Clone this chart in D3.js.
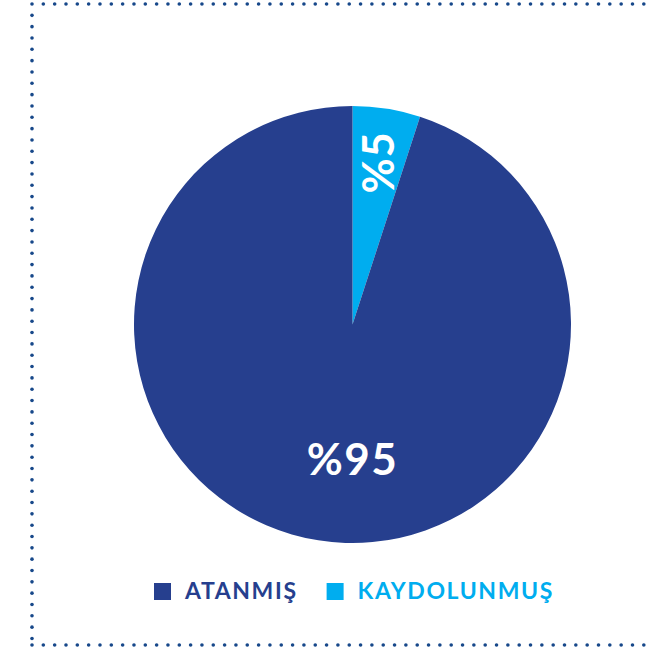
<!DOCTYPE html>
<html>
<head>
<meta charset="utf-8">
<script src="https://cdn.jsdelivr.net/npm/d3@7"></script>
<style>
  body { margin: 0; background: #fff; }
  svg { display: block; }
  text { font-family: Lato, "Open Sans", sans-serif; font-weight: 700; }
</style>
</head>
<body>
<svg id="chart" width="648" height="648"></svg>
<script>
// slices
const labels = ["ATANMIŞ", "KAYDOLUNMUŞ"];
const values = [95, 5];
const colors = ["#263f8e", "#00adef"];

const svg = d3.select("#chart");
const cx = 352.5, cy = 324.5, radius = 218.5;

// dotted frame (left, top, bottom; right side runs off the page)
const frame = svg.append("g").attr("fill", "#17488a");
const step = 11.33;
for (let x = 32; x <= 650; x += step) {
  frame.append("circle").attr("cx", x).attr("cy", 4).attr("r", 1.8);
  frame.append("circle").attr("cx", x).attr("cy", 645).attr("r", 1.8);
}
for (let y = 4 + step; y < 645; y += step) {
  frame.append("circle").attr("cx", 32).attr("cy", y).attr("r", 1.8);
}

// pie: small slice starts at 12 o'clock going clockwise
const order = [values[1], values[0]];
const orderColors = [colors[1], colors[0]];
const arcs = d3.pie().sort(null).value(d => d)(order);
const arc = d3.arc().innerRadius(0).outerRadius(radius);

const g = svg.append("g").attr("transform", `translate(${cx},${cy})`);
g.selectAll("path")
  .data(arcs)
  .join("path")
  .attr("d", arc)
  .attr("fill", (d, i) => orderColors[i]);

// small slice label, rotated along the slice
const small = arcs[0];
const midA = (small.startAngle + small.endAngle) / 2;
const lr = 164;
g.append("text")
  .attr("transform", `translate(${lr * Math.sin(midA)},${-lr * Math.cos(midA)}) rotate(-90)`)
  .attr("text-anchor", "middle")
  .attr("dy", "0.36em")
  .attr("fill", "#fff")
  .attr("font-size", 43)
  .attr("letter-spacing", 1)
  .text("%" + order[0]);

// big slice label
g.append("text")
  .attr("x", 0)
  .attr("y", 135)
  .attr("text-anchor", "middle")
  .attr("dy", "0.36em")
  .attr("fill", "#fff")
  .attr("font-size", 44)
  .attr("letter-spacing", 1.5)
  .text("%" + order[1]);

// legend
const legend = svg.append("g").attr("transform", "translate(0,591)");
let lx = 154;
labels.forEach((name, i) => {
  legend.append("rect")
    .attr("x", lx).attr("y", -8)
    .attr("width", 17).attr("height", 17)
    .attr("fill", colors[i]);
  const t = legend.append("text")
    .attr("x", lx + 31)
    .attr("y", 0)
    .attr("dy", "0.36em")
    .attr("font-size", 23)
    .attr("letter-spacing", 1.6)
    .attr("fill", colors[i])
    .text(name);
  lx += 31 + t.node().getComputedTextLength() + 29;
});
</script>
</body>
</html>
